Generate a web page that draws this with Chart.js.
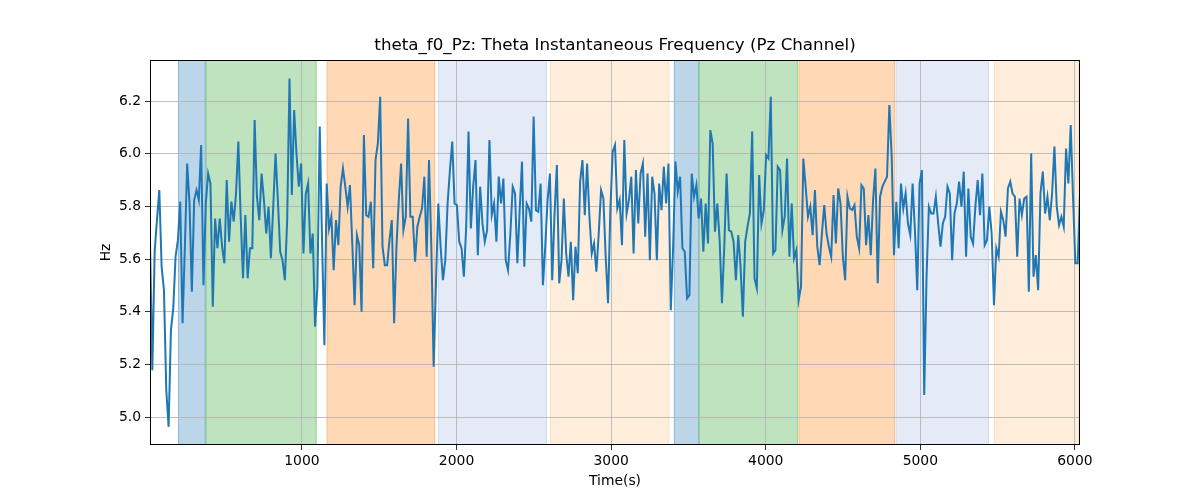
<!DOCTYPE html>
<html>
<head>
<meta charset="utf-8">
<script src="https://cdn.jsdelivr.net/npm/chart.js@4/dist/chart.umd.min.js"></script>
<style>
  html, body { margin: 0; padding: 0; background: #ffffff; }
  #wrap { width: 1200px; height: 500px; }
</style>
</head>
<body>
<div id="wrap"><canvas id="c" width="1200" height="500"></canvas></div>
<script>
// ---- data ----
const timeStart = 17;
const timeStep = 15.04;
const hzValues = [
  5.666, 5.178, 5.628, 5.75, 5.862, 5.571, 5.482, 5.103, 4.963, 5.330, 5.413, 5.609, 5.672, 5.818, 5.356, 5.647, 5.963, 5.811, 5.476, 5.824, 5.862, 5.824, 6.033, 5.501, 5.811, 5.925, 5.887, 5.419, 5.754, 5.641, 5.754, 5.647, 5.584,
  5.9, 5.666, 5.818, 5.742, 5.849, 6.046, 5.761, 5.527, 5.767, 5.527, 5.641, 5.641, 6.128, 5.837, 5.748, 5.925, 5.824, 5.697, 5.799, 5.603, 5.799, 6.001, 5.824, 5.628, 5.596, 5.520, 5.748, 6.286, 5.843, 6.166, 6.001, 5.875, 5.963, 5.621,
  5.849, 5.887, 5.621, 5.697, 5.343, 5.495, 6.103, 5.672, 5.273, 5.887, 5.716, 5.761, 5.558, 5.748, 5.653, 5.875, 5.944, 5.875, 5.799, 5.881, 5.659, 5.425, 5.691, 5.653, 5.400, 6.071, 5.767, 5.761, 5.818, 5.565, 5.976, 6.039, 6.216,
  5.647, 5.577, 5.577, 5.672, 5.748, 5.356, 5.647, 5.824, 5.963, 5.710, 5.761, 6.134, 5.761, 5.761, 5.590, 5.723, 5.761, 5.792, 5.913, 5.609, 5.976, 5.647, 5.191, 5.508, 5.811, 5.647, 5.520, 5.596, 5.811, 5.938, 6.046, 5.811, 5.805, 5.666,
  5.641, 5.533, 5.723, 6.084, 5.716, 5.875, 5.976, 5.615, 5.875, 5.735, 5.666, 5.710, 6.052, 5.767, 5.811, 5.666, 5.913, 5.811, 5.906, 5.596, 5.558, 5.697, 5.875, 5.849, 5.584, 5.786, 5.970, 5.571, 5.811, 5.792, 5.742, 6.141, 5.786, 5.780,
  5.887, 5.501, 5.647, 5.824, 5.925, 5.520, 5.773, 5.957, 5.508, 5.596, 5.830, 5.621, 5.533, 5.666, 5.444, 5.647, 5.546, 5.894, 5.976, 5.767, 5.963, 5.761, 5.621, 5.659, 5.552, 5.697, 5.862, 5.830, 5.609, 5.432, 5.786, 6.008, 6.033,
  5.792, 5.824, 5.653, 6.052, 5.773, 5.824, 5.913, 5.621, 5.938, 5.735, 5.925, 5.963, 5.685, 5.925, 5.596, 5.913, 5.849, 5.596, 5.887, 5.786, 5.951, 5.811, 5.963, 5.406, 5.647, 5.970, 5.856, 5.913, 5.641, 5.628, 5.451, 5.463, 5.925, 5.837,
  5.881, 5.754, 5.830, 5.628, 5.811, 5.659, 6.090, 6.039, 5.704, 5.811, 5.672, 5.432, 5.647, 5.925, 5.710, 5.704, 5.666, 5.520, 5.691, 5.571, 5.381, 5.666, 5.723, 5.773, 6.084, 5.527, 5.489, 5.919, 5.735, 5.786, 5.995, 5.982, 6.216, 5.621,
  5.634, 5.951, 5.938, 5.710, 5.761, 5.982, 5.609, 5.811, 5.603, 5.634, 5.444, 5.495, 5.982, 5.875, 5.761, 5.799, 5.691, 5.862, 5.647, 5.577, 5.697, 5.805, 5.697, 5.647, 5.609, 5.843, 5.659, 5.868, 5.811, 5.609, 5.520, 5.837, 5.792,
  5.786, 5.805, 5.685, 5.641, 5.881, 5.868, 5.653, 5.767, 5.615, 5.824, 5.944, 5.508, 5.837, 5.875, 5.894, 5.913, 6.185, 5.989, 5.615, 5.818, 5.641, 5.887, 5.792, 5.849, 5.735, 5.691, 5.887, 5.710, 5.482, 5.887, 5.938, 5.084, 5.533, 5.799,
  5.773, 5.773, 5.837, 5.735, 5.647, 5.735, 5.761, 5.875, 5.849, 5.596, 5.773, 5.811, 5.894, 5.799, 5.932, 5.609, 5.868, 5.685, 5.659, 5.799, 5.900, 5.767, 5.925, 5.653, 5.672, 5.799, 5.697, 5.425, 5.641, 5.609, 5.780, 5.748, 5.685,
  5.868, 5.894, 5.849, 5.837, 5.609, 5.830, 5.767, 5.830, 5.837, 5.476, 6.001, 5.533, 5.615, 5.482, 5.849, 5.932, 5.773, 5.837, 5.748, 5.849, 6.027, 5.799, 5.729, 5.761, 5.723, 6.020, 5.887, 6.109, 5.837, 5.584, 5.584, 5.843
];
const xTicks = [1000, 2000, 3000, 4000, 5000, 6000];
const yTicks = [5.0, 5.2, 5.4, 5.6, 5.8, 6.0, 6.2];
const bandStarts = [198, 377, 1160, 1880, 2604, 3406, 3568, 4213, 4840, 5476];
const bandEnds   = [377, 1095, 1862, 2585, 3376, 3568, 4208, 4836, 5444, 6030];
const bandKinds  = ['blue', 'green', 'orange', 'lightblue', 'lightorange', 'blue', 'green', 'orange', 'lightblue', 'lightorange'];
const titleText = 'theta_f0_Pz: Theta Instantaneous Frequency (Pz Channel)';
const xLabel = 'Time(s)';
const yLabel = 'Hz';

// ---- styles ----
const bandFill = {
  blue: 'rgba(31,119,180,0.3)',
  green: 'rgba(44,160,44,0.3)',
  orange: 'rgba(255,127,14,0.3)',
  lightblue: 'rgba(72,120,200,0.15)',
  lightorange: 'rgba(255,140,30,0.16)'
};
const FONT = '"DejaVu Sans", "Liberation Sans", sans-serif';

const points = hzValues.map((v, i) => ({ x: timeStart + i * timeStep, y: v }));
const xMin = timeStart;
const xMax = timeStart + (hzValues.length - 1) * timeStep;

const decor = {
  id: 'decor',
  beforeDraw(chart) {
    const { ctx, chartArea: a, scales } = chart;
    ctx.save();
    ctx.fillStyle = '#ffffff';
    ctx.fillRect(0, 0, chart.width, chart.height);
    ctx.beginPath();
    ctx.rect(a.left, a.top, a.right - a.left, a.bottom - a.top);
    ctx.clip();
    for (let i = 0; i < bandStarts.length; i++) {
      const x1 = scales.x.getPixelForValue(bandStarts[i]);
      const x2 = scales.x.getPixelForValue(bandEnds[i]);
      ctx.fillStyle = bandFill[bandKinds[i]];
      ctx.fillRect(x1, a.top, x2 - x1, a.bottom - a.top);
      ctx.strokeStyle = bandFill[bandKinds[i]];
      ctx.lineWidth = 1;
      ctx.strokeRect(x1 + 0.5, a.top - 1, x2 - x1 - 1, a.bottom - a.top + 2);
    }
    ctx.restore();
  },
  afterDraw(chart) {
    const { ctx, chartArea: a } = chart;
    ctx.save();
    ctx.strokeStyle = '#000000';
    ctx.lineWidth = 1;
    ctx.strokeRect(Math.round(a.left) + 0.5, Math.round(a.top) + 0.5,
                   Math.round(a.right - a.left) - 1, Math.round(a.bottom - a.top) - 1);
    ctx.fillStyle = '#000000';
    ctx.textAlign = 'center';
    ctx.textBaseline = 'middle';
    ctx.font = '16.7px ' + FONT;
    ctx.fillText(titleText, (a.left + a.right) / 2, 46);
    ctx.font = '13.9px ' + FONT;
    ctx.fillText(xLabel, (a.left + a.right) / 2, 481);
    ctx.translate(106, (a.top + a.bottom) / 2);
    ctx.rotate(-Math.PI / 2);
    ctx.fillText(yLabel, 0, 0);
    ctx.restore();
  }
};

new Chart(document.getElementById('c'), {
  type: 'line',
  data: {
    datasets: [{
      data: points,
      borderColor: '#1f77b4',
      borderWidth: 2,
      pointRadius: 0,
      tension: 0,
      fill: false
    }]
  },
  options: {
    responsive: false,
    animation: false,
    devicePixelRatio: 1,
    layout: { padding: { left: 0, top: 60, right: 120, bottom: 0 } },
    plugins: { legend: { display: false }, title: { display: false }, tooltip: { enabled: false } },
    scales: {
      x: {
        type: 'linear',
        min: xMin,
        max: xMax,
        afterBuildTicks(s) { s.ticks = xTicks.map(v => ({ value: v })); },
        afterFit(s) { s.height = 55; },
        grid: { color: '#b0b0b0', lineWidth: 0.8, drawTicks: true, tickLength: 5, tickColor: '#000000' },
        border: { display: false },
        ticks: { color: '#000000', font: { family: FONT, size: 13.9 }, padding: 3, maxRotation: 0, autoSkip: false,
                 callback: v => String(v) }
      },
      y: {
        type: 'linear',
        min: 4.894,
        max: 6.356,
        afterBuildTicks(s) { s.ticks = yTicks.map(v => ({ value: v })); },
        afterFit(s) { s.width = 150; },
        grid: { color: '#b0b0b0', lineWidth: 0.8, drawTicks: true, tickLength: 5, tickColor: '#000000' },
        border: { display: false },
        ticks: { color: '#000000', font: { family: FONT, size: 13.9 }, padding: 4, autoSkip: false,
                 callback: v => Number(v).toFixed(1) }
      }
    }
  },
  plugins: [decor]
});
</script>
</body>
</html>
